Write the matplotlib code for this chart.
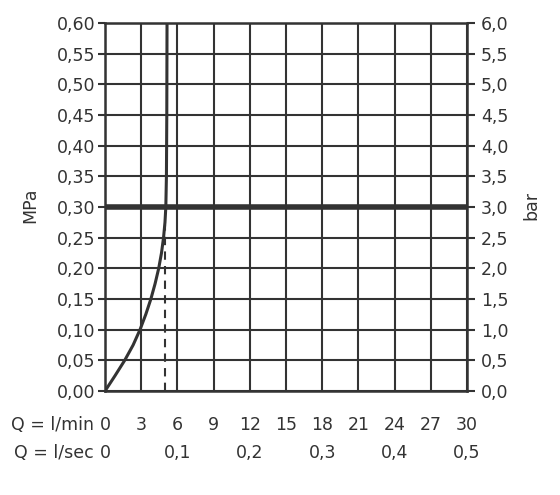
import matplotlib.pyplot as plt
import matplotlib.transforms as mtransforms

# flow curve (l/min vs MPa)
flow_lpm = [0.0, 0.83, 1.63, 2.33, 2.9, 3.38, 3.8, 4.15, 4.45, 4.68, 4.85, 4.97, 5.04, 5.09, 5.12, 5.14]
pressure_mpa = [0.0, 0.025, 0.05, 0.075, 0.10, 0.125, 0.15, 0.175, 0.20, 0.225, 0.25, 0.275, 0.30, 0.35, 0.45, 0.60]

rated_pressure = 0.30
rated_flow = 5.0

lpm_ticks = [0, 3, 6, 9, 12, 15, 18, 21, 24, 27, 30]
lps_ticks = [0, 6, 12, 18, 24, 30]
lps_labels = ["0", "0,1", "0,2", "0,3", "0,4", "0,5"]
mpa_ticks = [i * 0.05 for i in range(13)]
mpa_labels = ["%.2f" % v for v in mpa_ticks]
bar_labels = ["%.1f" % (v * 10) for v in mpa_ticks]

ink = "#333333"
plt.rcParams["font.family"] = ["DejaVu Sans"]
plt.rcParams["font.size"] = 12.5

fig = plt.figure(figsize=(5.6, 4.95), dpi=100)
ax = fig.add_axes([0.1875, 0.21, 0.6465, 0.7435])

ax.set_xlim(0, 30)
ax.set_ylim(0, 0.6)

for x in lpm_ticks:
    ax.axvline(x, color=ink, lw=1.5, zorder=1)
for y in mpa_ticks:
    ax.axhline(y, color=ink, lw=1.5, zorder=1)

ax.axhline(rated_pressure, color=ink, lw=4, zorder=3)
ax.plot([rated_flow, rated_flow], [0, 0.27], color=ink, lw=1.5,
        dashes=(4, 3), zorder=2)
ax.plot(flow_lpm, pressure_mpa, color=ink, lw=2.2, zorder=4,
        solid_capstyle="round", solid_joinstyle="round")

for s in ax.spines.values():
    s.set_color(ink)
    s.set_linewidth(1.8)

ax.set_yticks(mpa_ticks)
ax.set_yticklabels([l.replace(".", ",") for l in mpa_labels], color=ink)
ax.tick_params(axis="y", length=5, width=1.5, color=ink, pad=2)
ax.set_xticks(lpm_ticks)
ax.set_xticklabels([])
ax.tick_params(axis="x", length=0)

ax2 = ax.twinx()
ax2.set_ylim(0, 0.6)
ax2.set_yticks(mpa_ticks)
ax2.set_yticklabels([l.replace(".", ",") for l in bar_labels], color=ink)
ax2.tick_params(axis="y", length=6, width=1.5, color=ink, pad=4)
for s in ax2.spines.values():
    s.set_visible(False)

fig.text(30 / 560, 1 - 205 / 495, "MPa", rotation=90, ha="center",
         va="center", color=ink)
fig.text(531 / 560, 1 - 205 / 495, "bar", rotation=90, ha="center",
         va="center", color=ink)

trans = mtransforms.blended_transform_factory(ax.transData, ax.transAxes)
for x in lpm_ticks:
    ax.text(x, -0.092, str(x), transform=trans, ha="center", va="center",
            color=ink)
for x, lab in zip(lps_ticks, lps_labels):
    ax.text(x, -0.168, lab, transform=trans, ha="center", va="center",
            color=ink)

ax.text(-0.03, -0.092, "Q = l/min", transform=ax.transAxes, ha="right",
        va="center", color=ink)
ax.text(-0.03, -0.168, "Q = l/sec", transform=ax.transAxes, ha="right",
        va="center", color=ink)

fig.savefig("out.png", dpi=100, facecolor="white")
